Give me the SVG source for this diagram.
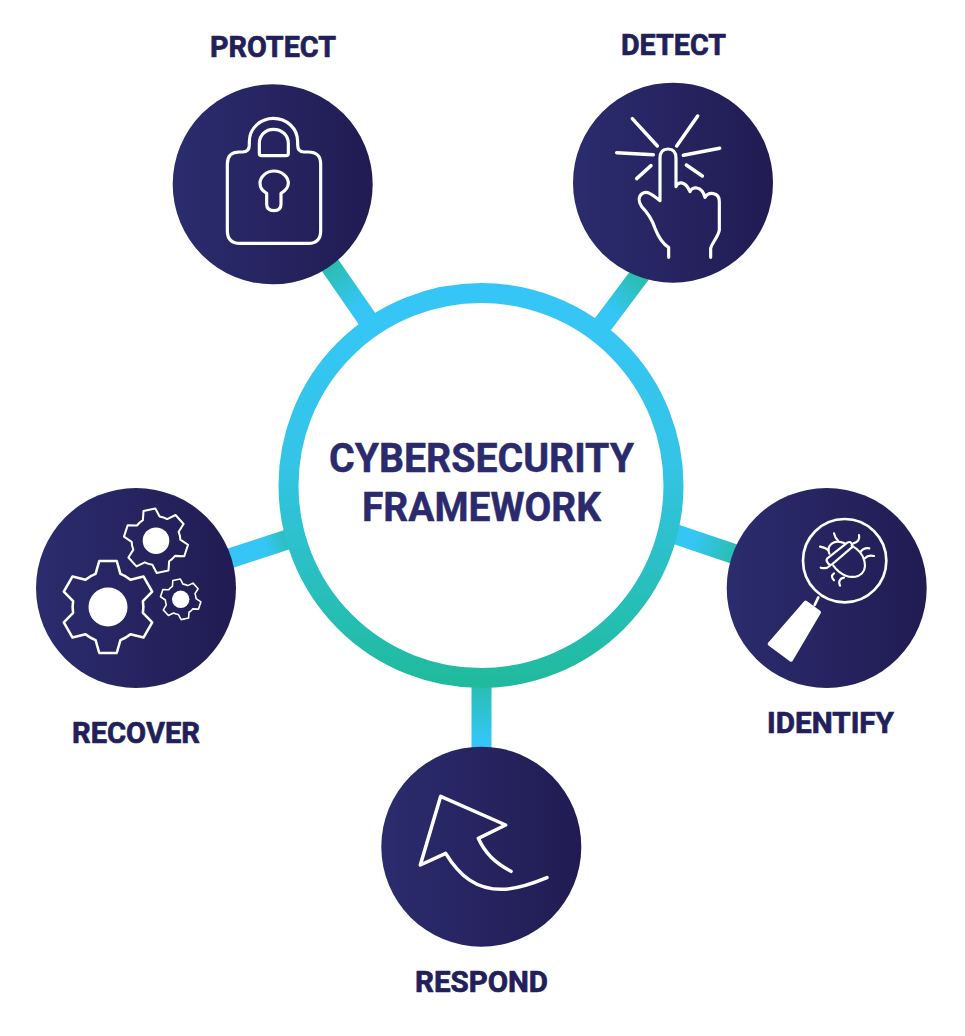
<svg xmlns="http://www.w3.org/2000/svg" xmlns:xlink="http://www.w3.org/1999/xlink" width="965" height="1036" viewBox="0 0 965 1036">
<style>
.lbl{font-family:"Roboto","Liberation Sans",sans-serif;font-weight:700;font-size:29px;fill:#221f5a;stroke:#221f5a;stroke-width:.7px;stroke-linejoin:round}
.ttl{font-family:"Roboto","Liberation Sans",sans-serif;font-weight:700;font-size:41px;fill:#2a2a6c;stroke:#2a2a6c;stroke-width:.5px;stroke-linejoin:round}
.ic{fill:none;stroke:#fff;stroke-linecap:round;stroke-linejoin:round}
.disc{fill:url(#disc)}
</style>
<defs>
<linearGradient id="disc" x1="0" y1="0" x2="1" y2="0"><stop offset="0" stop-color="#2b2c6e"/><stop offset="1" stop-color="#211b52"/></linearGradient>
<linearGradient id="ring" x1="0" y1="0" x2="0" y2="1"><stop offset="0" stop-color="#35c6f7"/><stop offset=".45" stop-color="#33c4e6"/><stop offset="1" stop-color="#20bb9f"/></linearGradient>
<linearGradient id="cP" gradientUnits="userSpaceOnUse" x1="330" y1="265" x2="367" y2="320"><stop offset="0" stop-color="#2abdb0"/><stop offset=".75" stop-color="#35c6f5"/></linearGradient>
<linearGradient id="cD" gradientUnits="userSpaceOnUse" x1="638" y1="277" x2="603" y2="323"><stop offset="0" stop-color="#2abdb0"/><stop offset=".75" stop-color="#35c6f5"/></linearGradient>
<linearGradient id="cR" gradientUnits="userSpaceOnUse" x1="232" y1="557" x2="292" y2="537"><stop offset=".55" stop-color="#35c6f5"/><stop offset="1" stop-color="#2abdb0"/></linearGradient>
<linearGradient id="cI" gradientUnits="userSpaceOnUse" x1="675" y1="535" x2="735" y2="556"><stop offset=".3" stop-color="#35c6f5"/><stop offset="1" stop-color="#2abdb0"/></linearGradient>
<linearGradient id="cS" gradientUnits="userSpaceOnUse" x1="481" y1="685" x2="481" y2="747"><stop offset="0" stop-color="#2abdb0"/><stop offset=".9" stop-color="#35c6f5"/></linearGradient>
<path id="gear" d="M-27-72L-19-100H19L27-72A76 76 0 0 1 48.85-59.38L77.1-66.45L96.1-33.55L75.85-12.62A76 76 0 0 1 75.85 12.61L96.1 33.55L77.1 66.45L48.85 59.38A76 76 0 0 1 27 72L19 100H-19L-27 72A76 76 0 0 1-48.85 59.38L-77.1 66.45L-96.1 33.55L-75.85 12.62A76 76 0 0 1-75.85-12.61L-96.1-33.55L-77.1-66.45L-48.85-59.38A76 76 0 0 1-27-72Z"/>
</defs>
<g id="connectors" fill="none" stroke-width="20">
<line x1="325" y1="258" x2="370" y2="323" stroke="url(#cP)"/>
<line x1="645" y1="268" x2="600" y2="328" stroke="url(#cD)"/>
<line x1="225" y1="560" x2="295" y2="537" stroke="url(#cR)"/>
<line x1="672" y1="533" x2="740" y2="556" stroke="url(#cI)"/>
<line x1="481.5" y1="680" x2="481.5" y2="750" stroke="url(#cS)"/>
</g>
<g id="hub">
<circle cx="481" cy="485.5" r="192.5" fill="#fff" stroke="url(#ring)" stroke-width="20"/>
<text class="ttl" x="329" y="472" textLength="305" lengthAdjust="spacingAndGlyphs">CYBERSECURITY</text>
<text class="ttl" x="362" y="521" textLength="239" lengthAdjust="spacingAndGlyphs">FRAMEWORK</text>
</g>
<g id="protect">
<circle class="disc" cx="272.7" cy="184.3" r="100"/>
<text class="lbl" x="210" y="57" textLength="126" lengthAdjust="spacingAndGlyphs">PROTECT</text>
<g class="ic" transform="translate(170 20) scale(.33333)" stroke-width="9.5">
<path d="M172 432Q172 396 208 396L218 396Q238 396 238 375L238 365C238 322 275 295 310 295C350 295 383 325 383 365L383 375Q383 396 402 396L415 396Q452 396 452 432L452 632Q452 670 415 670L210 670Q172 670 172 632Z"/>
<path d="M268 400L268 370C268 345 288 328 310 328C335 328 355 345 355 370L355 400Q355 407 348 407L275 407Q268 407 268 400Z"/>
<path d="M290 520L290 553Q290 572 312 572Q333 572 333 553L333 520C350 510 355 497 355 490C355 470 335 453 312 453C290 453 270 470 270 490C270 500 275 512 290 520Z"/>
</g>
</g>
<g id="detect">
<circle class="disc" cx="673" cy="182.7" r="100"/>
<text class="lbl" x="621" y="55" textLength="105" lengthAdjust="spacingAndGlyphs">DETECT</text>
<g class="ic" transform="translate(570 20) scale(.33333)" stroke-width="10.5">
<path d="M187 296L262 378M383 288L320 378M140 398L250 404M340 406L449 385M200 476L243 437M349 435L397 468"/>
<path stroke-width="9.5" d="M296 712L296 682C275 670 265 650 255 625C245 595 230 575 215 560C205 545 205 530 215 522C230 510 245 522 270 542L270 415C270 395 280 387 294 387C308 387 318 395 318 415L318 500C322 485 345 480 360 515C365 500 395 495 405 532C415 515 448 515 448 545L448 630C445 650 425 670 422 685L422 712"/>
</g>
</g>
<g id="identify">
<circle class="disc" cx="826.7" cy="588" r="100"/>
<text class="lbl" x="767" y="733" textLength="127" lengthAdjust="spacingAndGlyphs">IDENTIFY</text>
<g class="ic" transform="translate(670 490) scale(.33333)" stroke-width="8">
<circle cx="524" cy="212" r="125"/>
<path d="M445 322L434 345"/>
<path fill="#fff" stroke-width="12" d="M407 338L447 367L363 509L299 462Z"/>
<g stroke-width="6.5" transform="translate(420 105)">
<path d="M52 100L112 53Q120 48 124 55L127 60Q129 66 122 70L66 118Q59 122 55 116L51 110Q48 104 52 100Z"/>
<path d="M58 86C48 62 72 40 104 55M125 62C168 85 178 135 146 152C122 162 92 152 70 122"/>
<path d="M72 25C75 38 78 42 84 47M30 65C43 68 50 70 55 76M147 30C150 45 143 52 130 55M178 70C165 68 158 72 152 80M192 93C180 90 172 92 165 100M32 128C45 132 52 130 60 122M72 145C62 152 66 160 72 166M90 182C84 168 90 160 102 158"/>
</g>
</g>
</g>
<g id="respond">
<circle class="disc" cx="481.3" cy="846.7" r="100"/>
<text class="lbl" x="415" y="991.5" textLength="133" lengthAdjust="spacingAndGlyphs">RESPOND</text>
<g class="ic" transform="translate(370 670) scale(.33333)" stroke-width="10.5">
<path d="M423 604C375 578 345 550 325 505L407 465L212 379L151 585L227 550C270 620 320 658 395 658C440 658 490 640 531 623"/>
</g>
</g>
<g id="recover">
<circle class="disc" cx="136" cy="588" r="100"/>
<text class="lbl" x="72" y="743" textLength="128" lengthAdjust="spacingAndGlyphs">RECOVER</text>
<use xlink:href="#gear" href="#gear" class="ic" stroke-width="5.5" transform="translate(108 607) scale(.46)"/>
<circle cx="108" cy="607" r="19.5" fill="#fff"/>
<use xlink:href="#gear" href="#gear" class="ic" stroke-width="6.5" transform="translate(156 540.7) rotate(-12) scale(.317)"/>
<circle cx="156" cy="540.7" r="13.3" fill="#fff"/>
<use xlink:href="#gear" href="#gear" class="ic" stroke-width="8" transform="translate(180.7 599.3) rotate(-12) scale(.2)"/>
<circle cx="180.7" cy="599.3" r="8.7" fill="#fff"/>
</g>
</svg>
